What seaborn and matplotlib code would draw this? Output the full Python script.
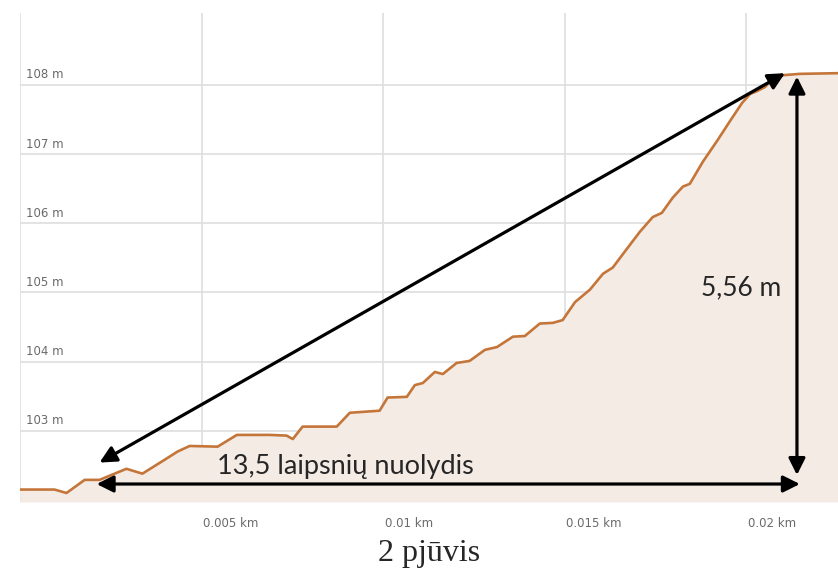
import numpy as np
import pandas as pd
import matplotlib as mpl
mpl.use("Agg")
import matplotlib.pyplot as plt
import seaborn as sns

# ---- profile (distance in km, elevation in m) -------------------------------
distance_km = [
    0.0, 0.00095, 0.00128, 0.00178, 0.00219, 0.00293, 0.00337, 0.00398,
    0.00434, 0.00467, 0.00544, 0.00597, 0.00687, 0.00734, 0.00751, 0.00778,
    0.00872, 0.00908, 0.00990, 0.01012, 0.01065, 0.01087, 0.01109, 0.01142,
    0.01164, 0.01202, 0.01238, 0.01280, 0.01313, 0.01357, 0.01390, 0.01431,
    0.01467, 0.01494, 0.01528, 0.01569, 0.01605, 0.01632, 0.01665, 0.01707,
    0.01742, 0.01767, 0.01797, 0.01825, 0.01844, 0.01880, 0.01919, 0.01955,
    0.01988, 0.02010, 0.02029, 0.02051, 0.02070, 0.02098, 0.02147, 0.02252,
]
elevation_m = [
    102.15, 102.15, 102.10, 102.29, 102.29, 102.45, 102.38, 102.58,
    102.70, 102.78, 102.77, 102.94, 102.94, 102.93, 102.88, 103.06,
    103.06, 103.26, 103.29, 103.48, 103.49, 103.66, 103.69, 103.85,
    103.82, 103.98, 104.01, 104.17, 104.21, 104.36, 104.37, 104.55,
    104.56, 104.60, 104.86, 105.04, 105.27, 105.36, 105.59, 105.88,
    106.09, 106.15, 106.37, 106.53, 106.57, 106.89, 107.19, 107.48,
    107.74, 107.87, 107.91, 107.97, 108.07, 108.14, 108.16, 108.17,
]

x_ticks = [0.005, 0.01, 0.015, 0.02]
x_tick_labels = ["0.005 km", "0.01 km", "0.015 km", "0.02 km"]
y_ticks = [103, 104, 105, 106, 107, 108]
y_tick_labels = ["103 m", "104 m", "105 m", "106 m", "107 m", "108 m"]

slope_label = "13,5 laipsnių nuolydis"
height_label = "5,56 m"
caption = "2 pjūvis"

LINE_COLOR = "#c4763a"
FILL_COLOR = "#f5ebe5"
GRID_COLOR = "#dedede"
TICK_COLOR = "#6a6a6a"

df = pd.DataFrame({"distance": distance_km, "elevation": elevation_m})

sns.set_style("white")
plt.rcParams["font.family"] = ["DejaVu Sans"]

fig = plt.figure(figsize=(8.38, 5.77), dpi=100)
ax = fig.add_axes([20 / 838, 75 / 577, 818 / 838, 489 / 577])

y_bottom, y_top = 101.97, 109.04
ax.set_xlim(0, 0.02252)
ax.set_ylim(y_bottom, y_top)

# grid
for xv in [0.0] + x_ticks:
    ax.axvline(xv, color=GRID_COLOR, linewidth=1.2, zorder=0)
for yv in y_ticks:
    ax.axhline(yv, color=GRID_COLOR, linewidth=1.2, zorder=0)

ax.fill_between(df["distance"], df["elevation"], y_bottom,
                color=FILL_COLOR, linewidth=0, zorder=1)
sns.lineplot(data=df, x="distance", y="elevation", ax=ax,
             color=LINE_COLOR, linewidth=1.9, zorder=3)

sns.despine(ax=ax, left=True, bottom=True)
ax.set_xlabel("")
ax.set_ylabel("")
ax.set_xticks([])
ax.set_yticks([])

# axis labels drawn inside the plot area, like the web chart
for xv, lab in zip(x_ticks, x_tick_labels):
    ax.annotate(lab, xy=(xv, y_bottom), xytext=(1, -10.5),
                textcoords="offset points", ha="left", va="top",
                fontsize=8.5, color=TICK_COLOR, annotation_clip=False)
for yv, lab in zip(y_ticks, y_tick_labels):
    ax.annotate(lab, xy=(0, yv), xytext=(4, 2.5),
                textcoords="offset points", ha="left", va="bottom",
                fontsize=8.5, color=TICK_COLOR)

# measurement arrows
arrow_kw = dict(arrowstyle="<|-|>,head_length=1.0,head_width=0.5",
                color="black", linewidth=2.3, shrinkA=0, shrinkB=0)
ax.annotate("", xy=(0.02106, 108.17), xytext=(0.00219, 102.54),
            arrowprops=arrow_kw, zorder=5)
ax.annotate("", xy=(0.02147, 102.23), xytext=(0.00211, 102.23),
            arrowprops=arrow_kw, zorder=5)
ax.annotate("", xy=(0.02139, 108.12), xytext=(0.02139, 102.36),
            arrowprops=arrow_kw, zorder=5)

ax.text(0.00895, 102.49, slope_label, ha="center", va="center",
        fontsize=19.5, family=["Lato", "DejaVu Sans"], zorder=6)
ax.text(0.01985, 105.07, height_label, ha="center", va="center",
        fontsize=19, family=["Lato", "DejaVu Sans"], zorder=6)

fig.text(429 / 838, 1 - 553 / 577, caption, ha="center", va="center",
         fontsize=23, family=["Liberation Serif", "DejaVu Serif"])

fig.savefig("out.png", dpi=100)
